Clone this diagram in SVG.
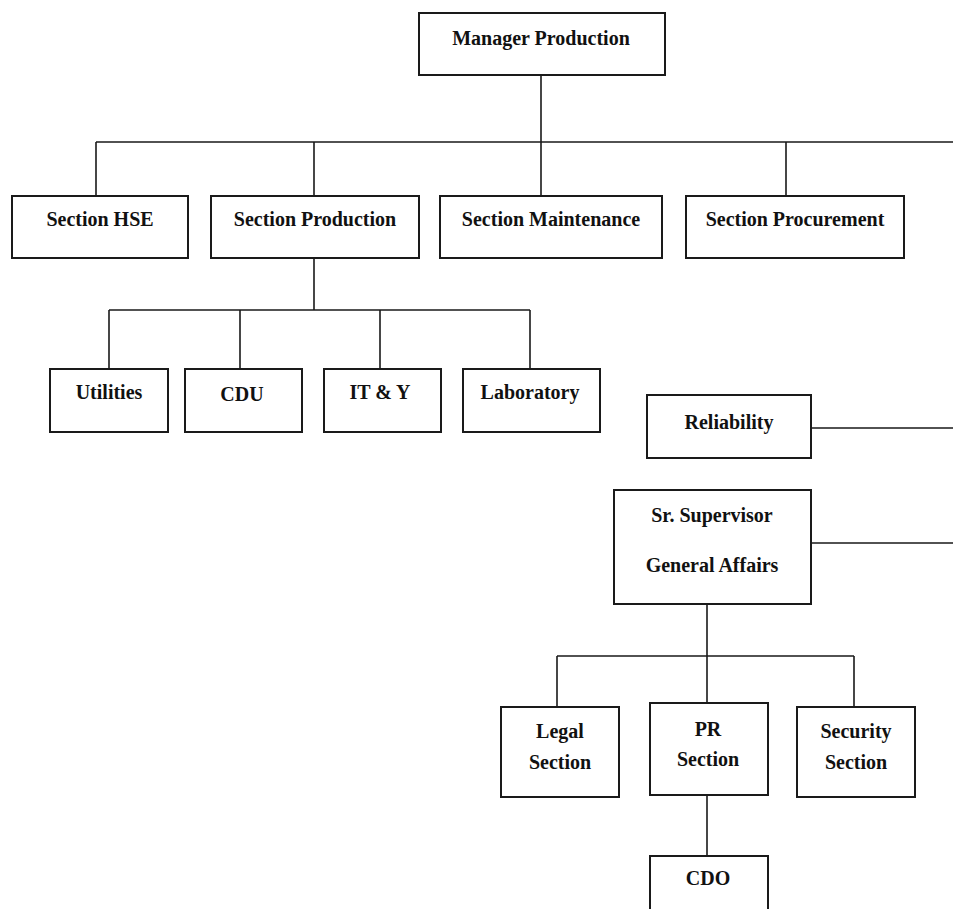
<svg xmlns="http://www.w3.org/2000/svg" width="953" height="909" viewBox="0 0 953 909">
<style>
.box{fill:#fff;stroke:#1a1a1a;stroke-width:2}
.ln{fill:none;stroke:#1a1a1a;stroke-width:1.6}
text{font-family:"Liberation Serif","Times New Roman",serif;font-weight:bold;font-size:20px;fill:#111;text-anchor:middle}
</style>
<rect width="953" height="909" fill="#fff"/>
<g id="connectors">
<path class="ln" d="M541 75V142M96 142H953M96 142V196M314 142V196M541 142V196M786 142V196"/>
<path class="ln" d="M314 258V310M109 310H530M109 310V369M240 310V369M380 310V369M530 310V369"/>
<path class="ln" d="M811 428H953M811 543H953"/>
<path class="ln" d="M707 604V703M557 656H854M557 656V707M854 656V707M707 795V856"/>
</g>
<g id="manager"><rect class="box" x="419" y="13" width="246" height="62"/><text x="541" y="45">Manager Production</text></g>
<g id="hse"><rect class="box" x="12" y="196" width="176" height="62"/><text x="100" y="226">Section HSE</text></g>
<g id="production"><rect class="box" x="211" y="196" width="208" height="62"/><text x="315" y="226">Section Production</text></g>
<g id="maintenance"><rect class="box" x="440" y="196" width="222" height="62"/><text x="551" y="226">Section Maintenance</text></g>
<g id="procurement"><rect class="box" x="686" y="196" width="218" height="62"/><text x="795" y="226">Section Procurement</text></g>
<g id="utilities"><rect class="box" x="50" y="369" width="118" height="63"/><text x="109" y="399">Utilities</text></g>
<g id="cdu"><rect class="box" x="185" y="369" width="117" height="63"/><text x="242" y="401">CDU</text></g>
<g id="ity"><rect class="box" x="324" y="369" width="117" height="63"/><text x="380" y="399">IT &amp; Y</text></g>
<g id="laboratory"><rect class="box" x="463" y="369" width="137" height="63"/><text x="530" y="399">Laboratory</text></g>
<g id="reliability"><rect class="box" x="647" y="395" width="164" height="63"/><text x="729" y="429">Reliability</text></g>
<g id="supervisor"><rect class="box" x="614" y="490" width="197" height="114"/><text x="712" y="522">Sr. Supervisor</text><text x="712" y="572">General Affairs</text></g>
<g id="legal"><rect class="box" x="501" y="707" width="118" height="90"/><text x="560" y="738">Legal</text><text x="560" y="769">Section</text></g>
<g id="pr"><rect class="box" x="650" y="703" width="118" height="92"/><text x="708" y="736">PR</text><text x="708" y="766">Section</text></g>
<g id="security"><rect class="box" x="797" y="707" width="118" height="90"/><text x="856" y="738">Security</text><text x="856" y="769">Section</text></g>
<g id="cdo"><rect class="box" x="650" y="856" width="118" height="70"/><text x="708" y="885">CDO</text></g>
</svg>
